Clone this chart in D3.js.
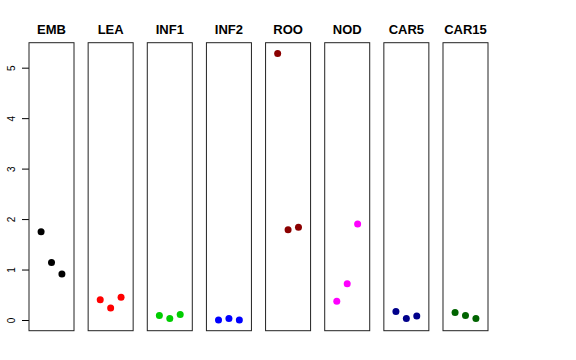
<!DOCTYPE html>
<html>
<head>
<meta charset="utf-8">
<script src="https://cdn.jsdelivr.net/npm/d3@7"></script>
<style>
  body { margin: 0; background: #fff; }
  svg { display: block; font-family: "Liberation Sans", Arial, Helvetica, sans-serif; }
</style>
</head>
<body>
<div id="graphicContainer"></div>
<script>
var tissues = ["EMB", "LEA", "INF1", "INF2", "ROO", "NOD", "CAR5", "CAR15"]
var colours = ["#000000", "#ff0000", "#00cd00", "#0000ff", "#8b0000", "#ff00ff", "#00008b", "#006400"]
var reps = [1, 2, 3]
var values = [
	[1.75, 1.14, 0.91],
	[0.40, 0.24, 0.45],
	[0.09, 0.03, 0.11],
	[0.00, 0.03, 0.00],
	[5.28, 1.79, 1.84],
	[0.37, 0.72, 1.90],
	[0.17, 0.03, 0.08],
	[0.15, 0.09, 0.03]
]
var yTicks = [0, 1, 2, 3, 4, 5]

var width = 576,
	height = 360

var svg = d3.select("#graphicContainer").append("svg")
	.attr("width", width)
	.attr("height", height)

var panel = d3.scaleBand()
	.domain(tissues)
	.range([29, 488])
	.paddingInner(0.239)
	.paddingOuter(0)

var y = d3.scaleLinear()
	.domain([-0.212, 5.495])
	.range([330.7, 42.7])

var x = d3.scaleLinear()
	.domain([-0.16, 4.16])
	.range([0, panel.bandwidth()])

// y axis on the first panel
var yAxis = g => g
	.attr("transform", `translate(${panel(tissues[0])},0)`)
	.call(d3.axisLeft(y).tickValues(yTicks).tickFormat(d3.format("d")).tickSize(7))
	.call(g => g.select(".domain").remove())
	.call(g => g.selectAll(".tick line").attr("stroke", "#000"))
	.call(g => g.selectAll(".tick text")
		.attr("font-size", 10)
		.attr("fill", "#000")
		.attr("x", null)
		.attr("dy", null)
		.attr("text-anchor", "middle")
		.attr("transform", "translate(-18,0) rotate(-90)")
		.attr("y", 3.5))

svg.append("g").call(yAxis)

var panels = svg.selectAll("g.panel")
	.data(tissues)
	.join("g")
	.attr("class", "panel")
	.attr("transform", d => `translate(${panel(d)},0)`)

panels.append("rect")
	.attr("x", 0)
	.attr("y", y.range()[1])
	.attr("width", panel.bandwidth())
	.attr("height", y.range()[0] - y.range()[1])
	.attr("fill", "none")
	.attr("stroke", "#222")
	.attr("stroke-width", 1)

panels.append("text")
	.attr("x", panel.bandwidth() / 2)
	.attr("y", 34)
	.attr("text-anchor", "middle")
	.attr("font-size", 13)
	.attr("font-weight", "bold")
	.text(d => d)

panels.selectAll("circle")
	.data((d, i) => values[i].map((v, j) => ({rep: reps[j], value: v, colour: colours[i]})))
	.join("circle")
	.attr("cx", d => x(d.rep))
	.attr("cy", d => y(d.value))
	.attr("r", 3.5)
	.attr("fill", d => d.colour)
</script>
</body>
</html>
